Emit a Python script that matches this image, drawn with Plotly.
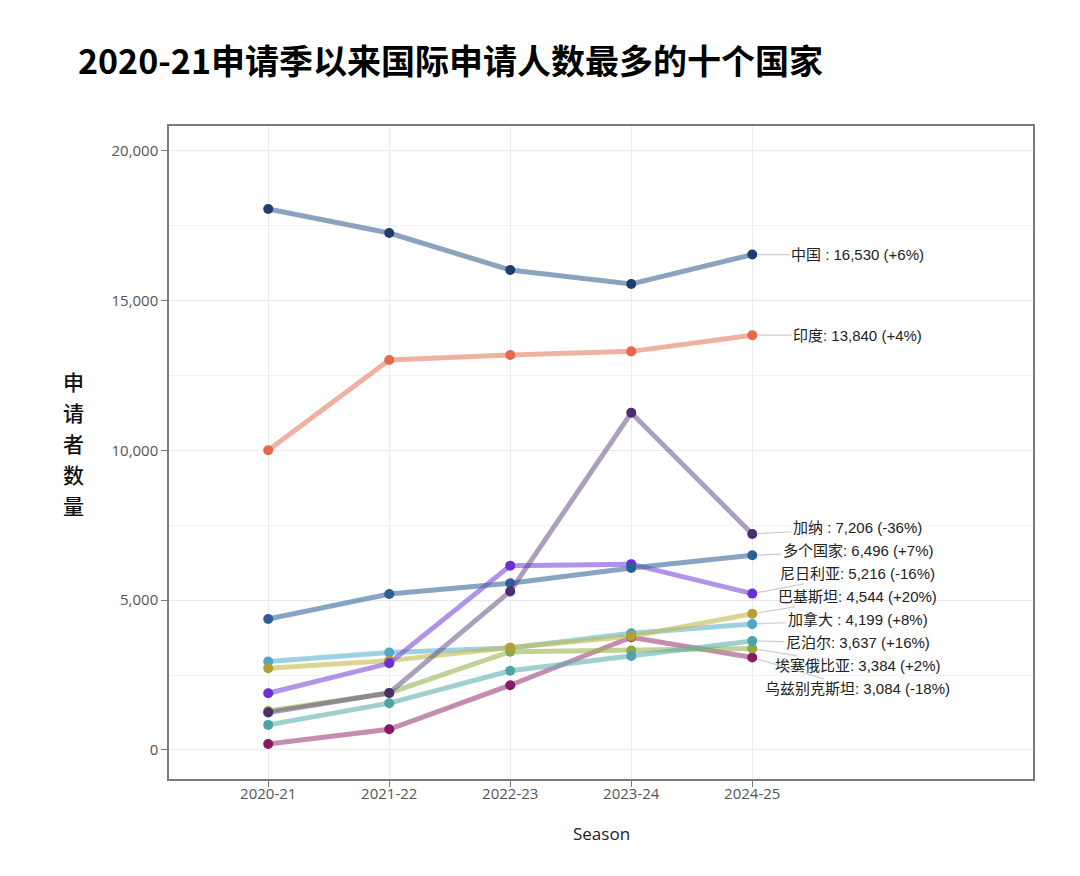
import plotly.graph_objects as go

seasons = ["2020-21", "2021-22", "2022-23", "2023-24", "2024-25"]

countries = ["中国", "印度", "加纳", "多个国家", "尼日利亚", "巴基斯坦", "加拿大", "尼泊尔", "埃塞俄比亚", "乌兹别克斯坦"]
label_names = ["中国 ", "印度", "加纳 ", "多个国家", "尼日利亚", "巴基斯坦", "加拿大 ", "尼泊尔", "埃塞俄比亚", "乌兹别克斯坦"]

china = [18050, 17250, 16015, 15550, 16530]
india = [10000, 13010, 13180, 13300, 13840]
ghana = [1250, 1900, 5290, 11250, 7206]
multiple = [4370, 5205, 5560, 6070, 6496]
nigeria = [1890, 2890, 6150, 6200, 5216]
pakistan = [2725, 2980, 3420, 3790, 4544]
canada = [2950, 3250, 3400, 3890, 4199]
nepal = [835, 1560, 2640, 3135, 3637]
ethiopia = [1300, 1900, 3280, 3320, 3384]
uzbekistan = [200, 690, 2160, 3760, 3084]

series = [china, india, ghana, multiple, nigeria, pakistan, canada, nepal, ethiopia, uzbekistan]

marker_colors = ["#1f3d73", "#e3694a", "#4b2e6f", "#2c5f97", "#6b2fd1",
                 "#b3a032", "#4ea9c9", "#4ea3a6", "#8fa83f", "#871a62"]
line_colors = ["rgba(45,88,140,0.55)", "rgba(226,115,85,0.55)", "rgba(90,65,125,0.5)",
               "rgba(55,105,155,0.6)", "rgba(125,75,215,0.6)", "rgba(195,185,75,0.6)",
               "rgba(95,180,205,0.6)", "rgba(95,175,175,0.6)", "rgba(150,180,80,0.6)",
               "rgba(150,45,115,0.55)"]

x_idx = list(range(len(seasons)))
Y_MIN, Y_MAX = -970, 20820
X_MIN, X_MAX = -0.82, 6.32
PLOT_H = 653
PLOT_W = 864

fig = go.Figure()
draw_order = [9, 8, 7, 6, 5, 4, 3, 2, 1, 0]
for i in draw_order:
    fig.add_trace(go.Scatter(
        x=x_idx, y=series[i], mode="lines+markers", name=countries[i],
        line=dict(color=line_colors[i], width=5),
        marker=dict(color=marker_colors[i], size=10),
        showlegend=False,
    ))

# label repel (1D clustering) in data units
gap = 23 / (PLOT_H / (Y_MAX - Y_MIN))
last_vals = [s[-1] for s in series]
order = sorted(range(len(series)), key=lambda k: -last_vals[k])


def center(g):
    return sum(last_vals[j] for j in g) / len(g)


groups = []
for k in order:
    groups.append([k])
    while len(groups) > 1:
        g1, g2 = groups[-2], groups[-1]
        c1, c2 = center(g1), center(g2)
        bottom1 = c1 - gap * (len(g1) - 1) / 2
        top2 = c2 + gap * (len(g2) - 1) / 2
        if bottom1 - top2 < gap:
            groups[-2] = g1 + g2
            groups.pop()
        else:
            break
label_y = {}
for g in groups:
    c = center(g)
    top = c + gap * (len(g) - 1) / 2
    for n, j in enumerate(g):
        label_y[j] = top - n * gap

label_x = 4.87
for i in range(len(series)):
    s = series[i]
    pct = round((s[-1] / s[-2] - 1) * 100)
    txt = f"{label_names[i]}: {s[-1]:,} ({pct:+d}%)"
    fig.add_annotation(
        x=x_idx[-1], y=s[-1], xref="x", yref="y",
        ax=label_x, ay=label_y[i], axref="x", ayref="y",
        text=txt, showarrow=True, arrowhead=0, arrowwidth=1.2,
        arrowcolor="#cccccc", standoff=5,
        font=dict(family="Liberation Sans, Noto Sans CJK SC", size=15, color="#222222"),
        xanchor="center", yanchor="middle",
    )

# y-axis title stacked vertically (page pixel positions -> paper coords)
ytitle = "申请者数量"
for n, ch in enumerate(ytitle):
    py = 381 + n * 31
    fig.add_annotation(
        x=(73 - 169) / PLOT_W, y=(779 - py) / PLOT_H, xref="paper", yref="paper",
        text=ch, showarrow=False,
        font=dict(family="Noto Sans CJK SC", size=21, color="#111111", weight=500),
        xanchor="center", yanchor="middle",
    )

fig.add_annotation(
    x=0.5, y=(779 - 833) / PLOT_H, xref="paper", yref="paper",
    text="Season", showarrow=False,
    font=dict(family="Open Sans", size=17, color="#222222"),
    xanchor="center", yanchor="middle",
)

# page body has an 8px margin; figure is sized/margined so the plot area lands at 169..1033 x 126..779
fig.update_layout(
    width=1064, height=860,
    margin=dict(l=161, r=39, t=118, b=89),
    paper_bgcolor="white", plot_bgcolor="white",
    title=dict(
        text="<b>2020-21申请季以来国际申请人数最多的十个国家</b>",
        x=70 / 1064, xanchor="left", xref="container",
        y=1 - 54 / 860, yanchor="middle", yref="container",
        font=dict(family="Noto Sans CJK SC", size=34, color="#000000"),
    ),
    xaxis=dict(
        range=[X_MIN, X_MAX], tickvals=x_idx, ticktext=seasons,
        showgrid=True, gridcolor="#ebebeb", gridwidth=1,
        showline=True, mirror=True, linecolor="#7a7a7a", linewidth=1.5,
        ticks="outside", ticklen=6, tickcolor="#7a7a7a", tickwidth=1.2,
        tickfont=dict(family="Open Sans", size=15, color="#555555"),
        ticklabelstandoff=-6,
        zeroline=False,
    ),
    yaxis=dict(
        range=[Y_MIN, Y_MAX], tickvals=[0, 5000, 10000, 15000, 20000],
        tickformat=",",
        showgrid=True, gridcolor="#ebebeb", gridwidth=1,
        minor=dict(dtick=2500, tick0=0, showgrid=True, gridcolor="#f3f3f3", gridwidth=1),
        showline=True, mirror=True, linecolor="#7a7a7a", linewidth=1.5,
        ticks="outside", ticklen=6, tickcolor="#7a7a7a", tickwidth=1.2,
        tickfont=dict(family="Open Sans", size=15, color="#555555"),
        zeroline=False,
    ),
)

fig.write_html("out.html")
